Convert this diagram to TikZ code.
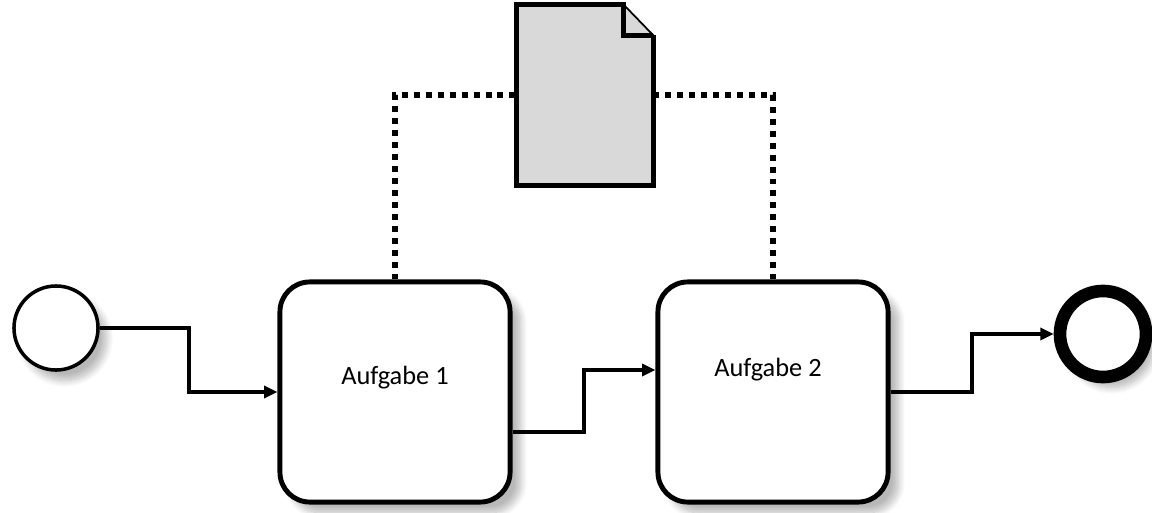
\documentclass[tikz,border=0pt]{standalone}
\usepackage{fontspec}
\setmainfont{Carlito}
\usetikzlibrary{arrows.meta,positioning,calc,shadows.blur}
\tikzset{
    event/.style={circle,draw,line width=1pt,minimum size=0.84cm,inner sep=0pt,fill=white,
        blur shadow={shadow xshift=2.5pt,shadow yshift=-3pt,shadow opacity=28,shadow blur steps=10}},
    endevent/.style={event,line width=3.6pt,minimum size=0.86cm},
    task/.style={draw,rounded corners=8.5pt,line width=1.4pt,minimum width=2.3cm,minimum height=2.2cm,fill=white,
        blur shadow={shadow xshift=3pt,shadow yshift=-3pt,shadow opacity=28,shadow blur steps=10}},
    label/.style={font=\fontsize{7.5}{9}\selectfont,inner sep=0pt},
    flow/.style={-{Triangle[length=3.8pt,width=3.4pt]},line width=1.2pt},
    assoc/.style={line width=1.7pt,dash pattern=on 1.7pt off 1.7pt},
    docline/.style={line width=1.45pt,line join=miter}
}
\begin{document}
\begin{tikzpicture}[x=0.01cm,y=-0.01cm]
    \useasboundingbox (0,0) rectangle (1152,512);
    \node[event] (start) at (56,328) {};
    \node[task] (task1) at (395,392) {};
    \node[task] (task2) at (773,392) {};
    \node[endevent] (end) at (1103,334) {};
    \node[label] (lab1) at (395,378) {Aufgabe 1};
    \node[label] (lab2) at (768,370) {Aufgabe 2};
    \node[inner sep=0pt,minimum width=1.35cm,minimum height=1.8cm] (doc) at (585,95) {};
    % associations
    \draw[assoc] (task1.north) |- (doc.west);
    \draw[assoc] (doc.east) -| (task2.north);
    % data object
    \fill[gray!30] (doc.south west) -- (doc.north west) -- ($(doc.north east)+(-30,0)$)
        -- ($(doc.north east)+(0,31)$) -- (doc.south east) -- cycle;
    \draw[docline] ($(doc.north east)+(0,31)$) -- (doc.south east) -- (doc.south west) -- (doc.north west)
        -- ($(doc.north east)+(-30,0)$) -- ($(doc.north east)+(-30,31)$) -- ($(doc.north east)+(0,31)$);
    \draw[line width=0.5pt] ($(doc.north east)+(-30,0)$) -- ($(doc.north east)+(0,31)$);
    % sequence flows
    \draw[flow] (start.east) -| ($(start.east)!.5!(task1.west)$) |- (task1.west);
    \coordinate (out1) at ($(task1.east)+(0,40)$);
    \coordinate (in2) at ($(task2.west)+(0,-22)$);
    \draw[flow] (out1) -| ($(out1)!.5!(in2)$) |- (in2);
    \draw[flow] (task2.east) -| ($(task2.east)!.5!(end.west)$) |- (end.west);
\end{tikzpicture}
\end{document}
